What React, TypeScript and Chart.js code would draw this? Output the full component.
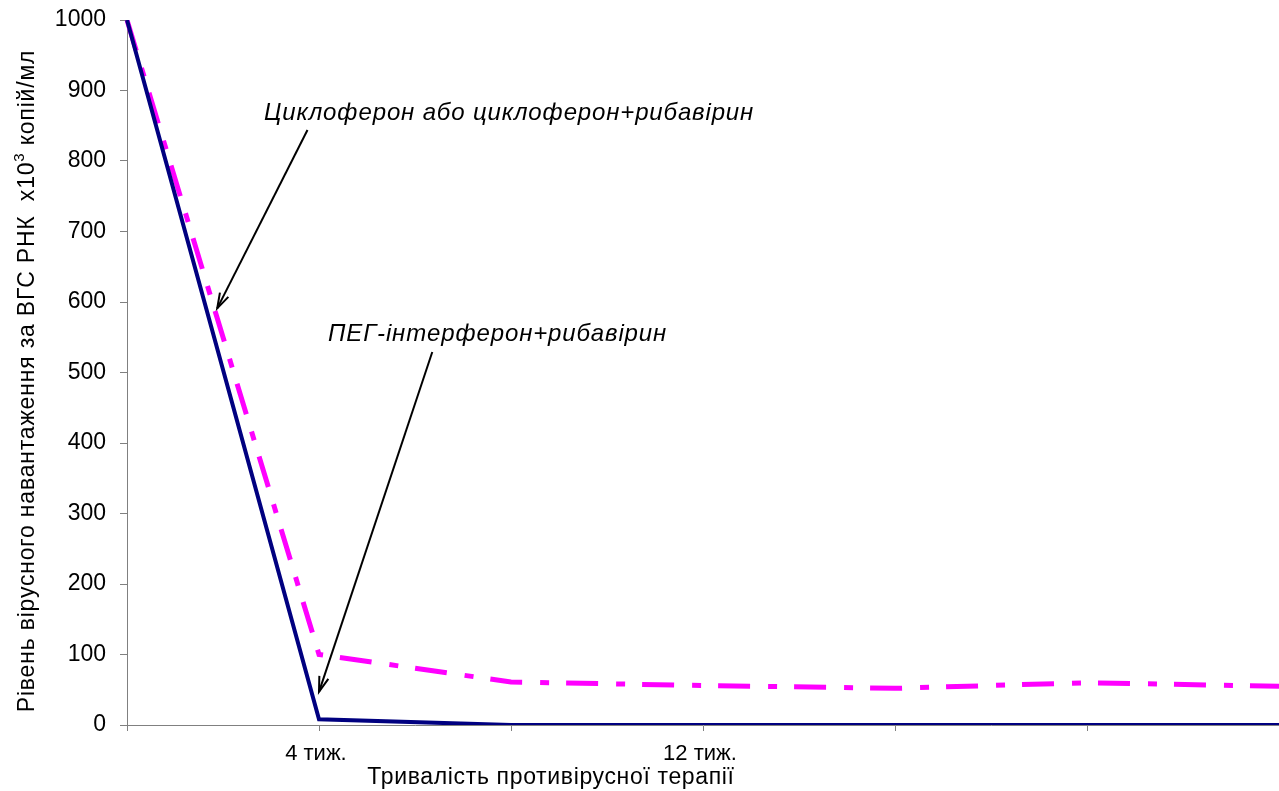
import React, { useEffect, useRef } from "react";
import { Chart, registerables } from "chart.js";

Chart.register(...registerables);

const xLabels = ["", "4 тиж. ", "", "12 тиж. ", "", "", ""];
const pegSeries = [1000, 8, 0, 0, 0, 0, 0];
const cycloSeries = [1000, 100, 61, 56, 52, 60, 55];
const yMin = 0;
const yMax = 1000;
const yStep = 100;

const xTitle = "Тривалість противірусної терапії";
const yTitleMain = "Рівень вірусного навантаження за ВГС РНК  x10";
const yTitleSup = "3";
const yTitleEnd = " копій/мл";

// annotation texts anchored in data coordinates [xIndex, value]
const noteTexts = ["Циклоферон або циклоферон+рибавірин", "ПЕГ-інтерферон+рибавірин"];
const noteAnchors = [
  [1.99, 858],
  [1.93, 545],
];
// arrows: [fromX, fromY, toX, toY] in data coordinates
const arrows = [
  [0.94, 844, 0.47, 591],
  [1.59, 529, 1.0, 47],
];

const FONT = "'Liberation Sans', Arial, sans-serif";

const annotationPlugin = {
  id: "annotations",
  afterDatasetsDraw(chart: any) {
    const ctx = chart.ctx;
    const xs = chart.scales.x;
    const ys = chart.scales.y;
    ctx.save();
    ctx.fillStyle = "#000";
    ctx.font = `italic 24px ${FONT}`;
    ctx.letterSpacing = "0.85px";
    ctx.textAlign = "center";
    ctx.textBaseline = "alphabetic";
    noteTexts.forEach((t, i) => {
      const [ax, ay] = noteAnchors[i];
      ctx.fillText(t, xs.getPixelForValue(ax), ys.getPixelForValue(ay));
    });
    ctx.letterSpacing = "0px";
    ctx.strokeStyle = "#000";
    ctx.lineWidth = 2;
    arrows.forEach(([fx, fy, tx, ty]) => {
      const x1 = xs.getPixelForValue(fx);
      const y1 = ys.getPixelForValue(fy);
      const x2 = xs.getPixelForValue(tx);
      const y2 = ys.getPixelForValue(ty);
      ctx.beginPath();
      ctx.moveTo(x1, y1);
      ctx.lineTo(x2, y2);
      ctx.stroke();
      const ang = Math.atan2(y2 - y1, x2 - x1);
      const len = 16;
      const spread = 0.3;
      ctx.beginPath();
      ctx.moveTo(x2 - len * Math.cos(ang - spread), y2 - len * Math.sin(ang - spread));
      ctx.lineTo(x2, y2);
      ctx.lineTo(x2 - len * Math.cos(ang + spread), y2 - len * Math.sin(ang + spread));
      ctx.stroke();
    });
    ctx.restore();
  },
  afterDraw(chart: any) {
    const ctx = chart.ctx;
    const area = chart.chartArea;
    ctx.save();
    ctx.fillStyle = "#000";
    // x title
    ctx.font = `23px ${FONT}`;
    ctx.letterSpacing = "0.65px";
    ctx.textAlign = "center";
    ctx.textBaseline = "alphabetic";
    ctx.fillText(xTitle, (area.left + area.right) / 2 - 152, 784);
    // y title with superscript
    const mainFont = `23px ${FONT}`;
    const supFont = `15px ${FONT}`;
    ctx.letterSpacing = "0.8px";
    ctx.font = mainFont;
    const w1 = ctx.measureText(yTitleMain).width;
    const w3 = ctx.measureText(yTitleEnd).width;
    ctx.font = supFont;
    const w2 = ctx.measureText(yTitleSup).width;
    const total = w1 + w2 + w3;
    const cy = 381;
    ctx.translate(34, cy);
    ctx.rotate(-Math.PI / 2);
    ctx.textAlign = "left";
    let x = -total / 2;
    ctx.font = mainFont;
    ctx.fillText(yTitleMain, x, 0);
    x += w1;
    ctx.font = supFont;
    ctx.fillText(yTitleSup, x, -10);
    x += w2;
    ctx.font = mainFont;
    ctx.fillText(yTitleEnd, x, 0);
    ctx.restore();
  },
};

export default function App() {
  const ref = useRef<HTMLCanvasElement | null>(null);
  useEffect(() => {
    if (!ref.current) return;
    const chart = new Chart(ref.current, {
      type: "line",
      data: {
        labels: xLabels,
        datasets: [
          {
            label: "ПЕГ-інтерферон+рибавірин",
            data: pegSeries,
            borderColor: "#000080",
            borderWidth: 4,
            pointRadius: 0,
            tension: 0,
            fill: false,
          },
          {
            label: "Циклоферон або циклоферон+рибавірин",
            data: cycloSeries,
            borderColor: "#FF00FF",
            borderWidth: 5,
            borderDash: [32, 18, 9, 17],
            borderCapStyle: "butt",
            pointRadius: 0,
            tension: 0,
            fill: false,
          },
        ],
      },
      options: {
        responsive: false,
        animation: false,
        devicePixelRatio: 1,
        layout: { padding: { top: 20, right: 0, left: 0, bottom: 0 } },
        plugins: {
          legend: { display: false },
          tooltip: { enabled: false },
          title: { display: false },
        },
        scales: {
          x: {
            type: "category",
            offset: false,
            border: { color: "#808080", width: 1 },
            grid: {
              display: true,
              drawOnChartArea: false,
              drawTicks: true,
              tickLength: 6,
              color: "#808080",
            },
            ticks: {
              autoSkip: false,
              maxRotation: 0,
              minRotation: 0,
              padding: 10,
              color: "#000",
              font: { family: FONT, size: 22 },
            },
            afterFit(scale: any) {
              scale.height = 66;
              scale.paddingLeft = 0;
              scale.paddingRight = 0;
            },
          },
          y: {
            min: yMin,
            max: yMax,
            border: { color: "#808080", width: 1 },
            grid: {
              display: true,
              drawOnChartArea: false,
              drawTicks: true,
              tickLength: 7,
              color: "#808080",
            },
            ticks: {
              stepSize: yStep,
              padding: 14,
              color: "#000",
              font: { family: FONT, size: 23 },
              callback: (v: any) => String(v),
            },
            afterFit(scale: any) {
              scale.width = 127;
              scale.paddingTop = 0;
              scale.paddingBottom = 0;
            },
          },
        },
      },
      plugins: [annotationPlugin],
    } as any);
    return () => chart.destroy();
  }, []);
  return (
    <div style={{ position: "absolute", left: 0, top: 0, width: 1279, height: 791 }}>
      <canvas ref={ref} width={1279} height={791} style={{ display: "block" }} />
    </div>
  );
}
